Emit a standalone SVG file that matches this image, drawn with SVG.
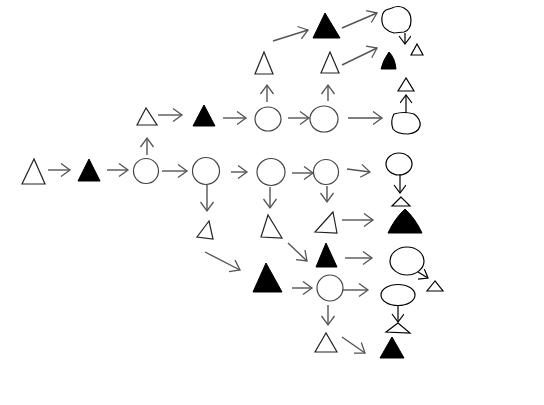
<svg xmlns="http://www.w3.org/2000/svg" width="544" height="405" viewBox="0 0 544 405">
<style>
.o{fill:none;stroke:#222;stroke-width:1.2}
.f{fill:#000;stroke:#000;stroke-width:1}
.c{fill:none;stroke:#444;stroke-width:1.2}
.k{fill:none;stroke:#000;stroke-width:1.2}
.e{fill:none;stroke:#555;stroke-width:1.4;marker-end:url(#ah)}
.e2{fill:none;stroke:#000;stroke-width:1.2;marker-end:url(#ah2)}
</style>
<defs>
<marker id="ah" markerWidth="14" markerHeight="16" refX="10" refY="7" orient="auto" markerUnits="userSpaceOnUse"><path d="M1,0.5 L10,7 L1,13.5" fill="none" stroke="#555" stroke-width="1.3"/></marker>
<marker id="ah2" markerWidth="14" markerHeight="14" refX="9" refY="6" orient="auto" markerUnits="userSpaceOnUse"><path d="M1,0 L9,6 L1,12" fill="none" stroke="#000" stroke-width="1.2"/></marker>
</defs>
<rect width="544" height="405" fill="#fff"/>
<g id="connectors">
<path class="e" d="M48,170 L70,170"/>
<path class="e" d="M107,170 L128,170"/>
<path class="e" d="M147,155 L147,138"/>
<path class="e" d="M162,171 L187,171"/>
<path class="e" d="M207,185 L207,211"/>
<path class="e" d="M231,172 L247,172"/>
<path class="e" d="M158,115 L182,115"/>
<path class="e" d="M223,118 L246,118"/>
<path class="e" d="M267,102 L267,85"/>
<path class="e" d="M288,118 L309,118"/>
<path class="e" d="M273,41 L308,30"/>
<path class="e" d="M328,101 L328,85"/>
<path class="e" d="M342,28 L377,13"/>
<path class="e" d="M342,65 L377,48"/>
<path class="e" d="M348,118 L382,118"/>
<path class="e2" d="M406,113 L406,95"/>
<path class="e2" d="M405,33 L405,44"/>
<path class="e" d="M292,173 L313,173"/>
<path class="e" d="M270,187 L270,208"/>
<path class="e" d="M327,186 L327,202"/>
<path class="e" d="M347,169 L370,172"/>
<path class="e" d="M342,220 L373,220"/>
<path class="e2" d="M400,174 L400,193"/>
<path class="e" d="M205,252 L240,270"/>
<path class="e" d="M288,243 L307,261"/>
<path class="e" d="M345,258 L372,258"/>
<path class="e2" d="M418,272 L428,278"/>
<path class="e" d="M292,288 L312,288"/>
<path class="e" d="M343,290 L368,290"/>
<path class="e2" d="M398,306 L398,322"/>
<path class="e" d="M328,305 L328,325"/>
<path class="e" d="M342,337 L365,353"/>
</g>
<g id="n1"><polygon class="o" points="34,159 22,184 45,184"/></g>
<g id="n2"><polygon class="f" points="89,159 78,181 100,181"/></g>
<g id="n3"><circle class="c" cx="146" cy="171" r="12.5"/></g>
<g id="n4"><polygon class="o" points="146,108 137,125 157,125"/></g>
<g id="n5"><polygon class="f" points="204,105 193,126 215,126"/></g>
<g id="n6"><ellipse class="c" cx="268" cy="119" rx="13" ry="12"/></g>
<g id="n7"><polygon class="o" points="264,52 255,74 273,74"/></g>
<g id="n8"><polygon class="f" points="325,13 313,38 340,38"/></g>
<g id="n9"><ellipse class="c" cx="324" cy="119" rx="14" ry="13"/></g>
<g id="n10"><polygon class="o" points="330,52 321,73 339,73"/></g>
<g id="n11"><path class="f" d="M389,52 Q383,60 381,69 L396,69 Q395,58 389,52 Z"/></g>
<g id="n12"><path class="k" d="M392,8 Q398,5 404,8 Q411,12 411,20 Q411,30 404,32 L394,33 Q383,30 382,22 Q381,13 386,10 Z"/></g>
<g id="n13"><polygon class="k" points="417,44 411,55 423,55"/></g>
<g id="n14"><path class="k" d="M394,114 Q404,111 414,114 Q421,119 420,126 Q418,133 408,134 Q397,134 393,129 Q390,121 394,114 Z"/></g>
<g id="n15"><polygon class="k" points="406,78 398,91 414,91"/></g>
<g id="n16"><circle class="c" cx="206" cy="171" r="13.5"/></g>
<g id="n17"><polygon class="o" points="209,221 197,237 213,239"/></g>
<g id="n18"><ellipse class="c" cx="271" cy="172" rx="14" ry="13.5"/></g>
<g id="n19"><polygon class="o" points="268,215 261,237 282,238"/></g>
<g id="n20"><circle class="c" cx="326" cy="172" r="12.5"/></g>
<g id="n21"><polygon class="o" points="333,212 315,232 337,233"/></g>
<g id="n22"><ellipse class="k" cx="399" cy="164" rx="13" ry="11"/></g>
<g id="n23"><polygon class="k" points="401,197 392,206 410,206"/></g>
<g id="n24"><path class="f" d="M405,209 Q395,218 388,233 L422,233 Q415,218 405,209 Z"/></g>
<g id="n25"><polygon class="f" points="326,243 316,267 337,267"/></g>
<g id="n26"><ellipse class="k" cx="407" cy="261" rx="17" ry="14"/></g>
<g id="n27"><polygon class="k" points="435,281 427,291 443,291"/></g>
<g id="n28"><polygon class="f" points="266,263 253,292 282,292"/></g>
<g id="n29"><circle class="c" cx="330" cy="288" r="13"/></g>
<g id="n30"><ellipse class="k" cx="398" cy="295" rx="17" ry="10.5"/></g>
<g id="n31"><polygon class="k" points="398,323 386,332 410,333"/></g>
<g id="n32"><polygon class="o" points="326,333 315,352 337,352"/></g>
<g id="n33"><polygon class="f" points="392,337 380,358 404,358"/></g>
</svg>
